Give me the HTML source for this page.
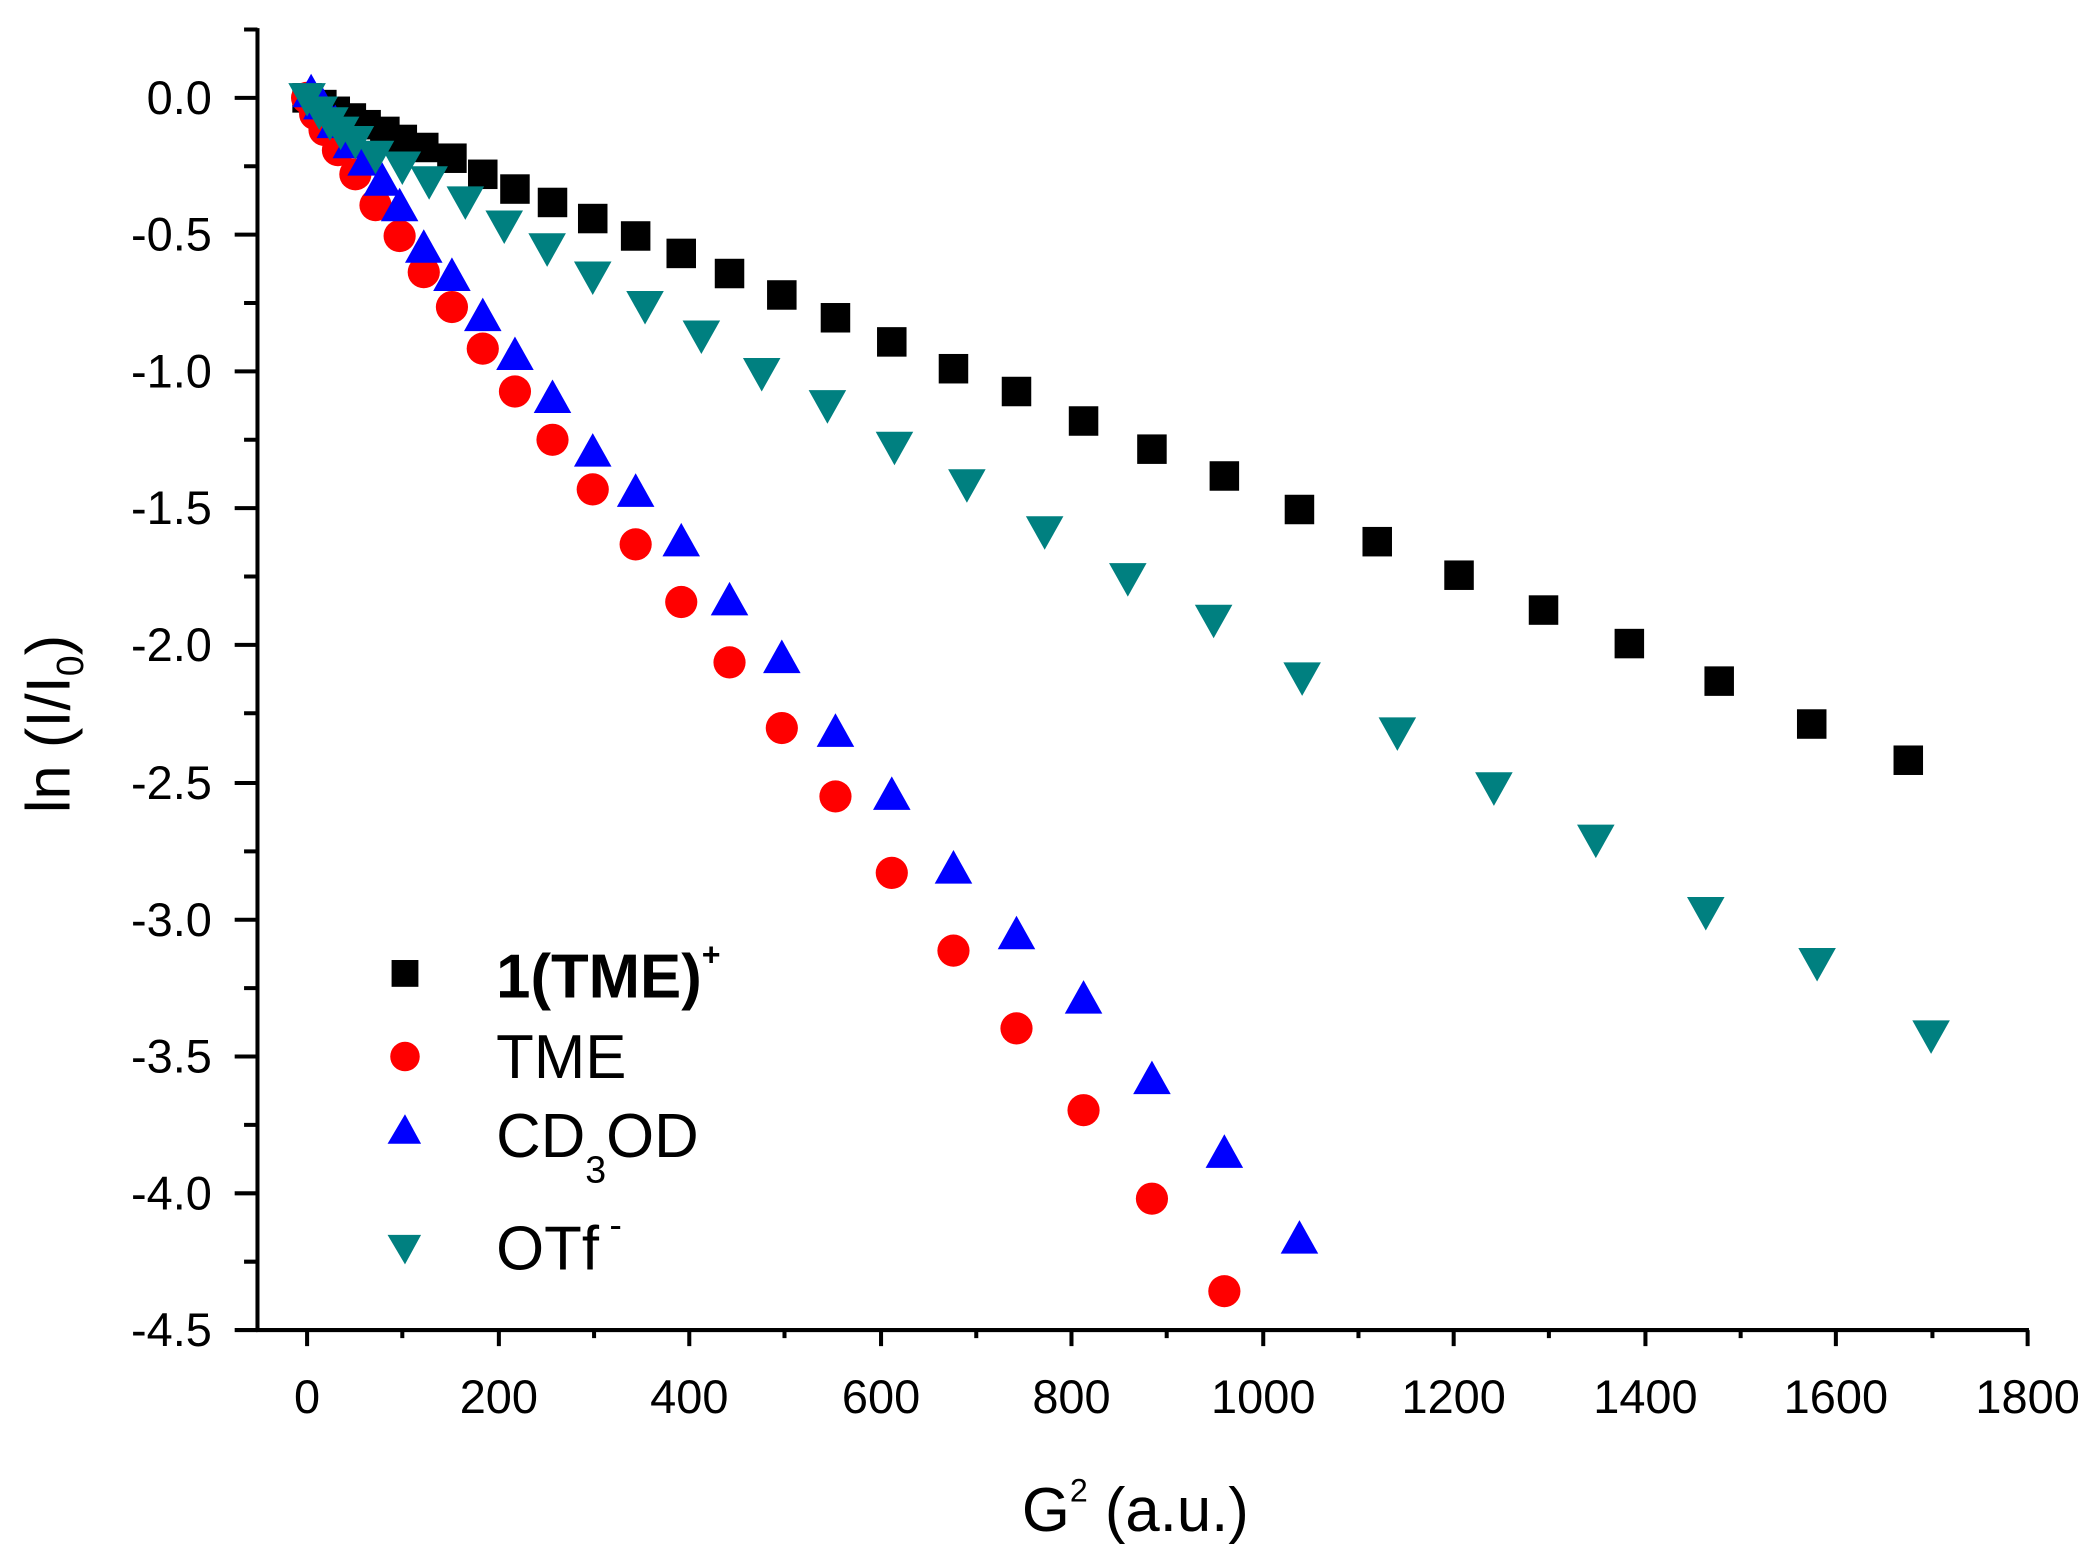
<!DOCTYPE html>
<html><head><meta charset="utf-8"><style>
html,body{margin:0;padding:0;background:#fff;}
svg{display:block;}
text{font-family:"Liberation Sans",Arial,sans-serif;fill:#000;}
</style></head><body>
<svg width="2092" height="1558" viewBox="0 0 1560 1162" preserveAspectRatio="none" xmlns="http://www.w3.org/2000/svg">
<defs>
<rect id="sq" x="-11" y="-11" width="22" height="22" fill="#000"/>
<circle id="ci" r="12" fill="#ff0000"/>
<path id="tu" d="M0,-14 L14,11 L-14,11 Z" fill="#0000ff"/>
<path id="td" d="M0,14 L14,-11 L-14,-11 Z" fill="#008080"/>
</defs>
<g stroke="#000" stroke-width="3" fill="none">
<line x1="192" y1="21" x2="192" y2="993"/>
<line x1="191" y1="992" x2="1513" y2="992"/>
<path d="M175,73H192 M175,175H192 M175,277H192 M175,379H192 M175,481H192 M175,584H192 M175,686H192 M175,788H192 M175,890H192 M175,992H192"/>
<path d="M182,22H192 M182,124H192 M182,226H192 M182,328H192 M182,430H192 M182,532H192 M182,635H192 M182,737H192 M182,839H192 M182,941H192"/>
<path d="M229,992V1004 M372,992V1004 M514,992V1004 M657,992V1004 M799,992V1004 M942,992V1004 M1084,992V1004 M1227,992V1004 M1369,992V1004 M1512,992V1004"/>
<path d="M300,992V998 M443,992V998 M585,992V998 M728,992V998 M870,992V998 M1013,992V998 M1155,992V998 M1298,992V998 M1441,992V998"/>
</g>
<g font-size="35" text-anchor="end">
<text x="158" y="85">0.0</text>
<text x="158" y="187">-0.5</text>
<text x="158" y="289">-1.0</text>
<text x="158" y="391">-1.5</text>
<text x="158" y="493">-2.0</text>
<text x="158" y="596">-2.5</text>
<text x="158" y="698">-3.0</text>
<text x="158" y="800">-3.5</text>
<text x="158" y="902">-4.0</text>
<text x="158" y="1004">-4.5</text>
</g>
<g font-size="35" text-anchor="middle">
<text x="229" y="1054">0</text>
<text x="372" y="1054">200</text>
<text x="514" y="1054">400</text>
<text x="657" y="1054">600</text>
<text x="799" y="1054">800</text>
<text x="942" y="1054">1000</text>
<text x="1084" y="1054">1200</text>
<text x="1227" y="1054">1400</text>
<text x="1369" y="1054">1600</text>
<text x="1512" y="1054">1800</text>
</g>
<text x="762" y="1142" font-size="46">G<tspan font-size="24" dy="-22">2</tspan><tspan dy="22"> (a.u.)</tspan></text>
<text transform="translate(52,540) rotate(-90)" font-size="46" text-anchor="middle">ln (I/I<tspan font-size="28" dy="10">0</tspan><tspan dy="-10">)</tspan></text>

<g>
<use href="#sq" x="229" y="73"/><use href="#sq" x="240" y="78"/><use href="#sq" x="250" y="83"/><use href="#sq" x="262" y="88"/><use href="#sq" x="273" y="93"/><use href="#sq" x="287" y="98"/><use href="#sq" x="300" y="104"/><use href="#sq" x="316" y="110"/><use href="#sq" x="337" y="118"/><use href="#sq" x="360" y="130"/><use href="#sq" x="384" y="141"/><use href="#sq" x="412" y="151"/><use href="#sq" x="442" y="163"/><use href="#sq" x="474" y="176"/><use href="#sq" x="508" y="189"/><use href="#sq" x="544" y="204"/><use href="#sq" x="583" y="220"/><use href="#sq" x="623" y="237"/><use href="#sq" x="665" y="255"/><use href="#sq" x="711" y="275"/><use href="#sq" x="758" y="292"/><use href="#sq" x="808" y="314"/><use href="#sq" x="859" y="335"/><use href="#sq" x="913" y="355"/><use href="#sq" x="969" y="380"/><use href="#sq" x="1027" y="404"/><use href="#sq" x="1088" y="429"/><use href="#sq" x="1151" y="455"/><use href="#sq" x="1215" y="480"/><use href="#sq" x="1282" y="508"/><use href="#sq" x="1351" y="540"/><use href="#sq" x="1423" y="567"/>
</g>
<g>
<use href="#ci" x="229" y="73"/><use href="#ci" x="235" y="85"/><use href="#ci" x="242" y="97"/><use href="#ci" x="252" y="112"/><use href="#ci" x="265" y="130"/><use href="#ci" x="280" y="153"/><use href="#ci" x="298" y="176"/><use href="#ci" x="316" y="203"/><use href="#ci" x="337" y="229"/><use href="#ci" x="360" y="260"/><use href="#ci" x="384" y="292"/><use href="#ci" x="412" y="328"/><use href="#ci" x="442" y="365"/><use href="#ci" x="474" y="406"/><use href="#ci" x="508" y="449"/><use href="#ci" x="544" y="494"/><use href="#ci" x="583" y="543"/><use href="#ci" x="623" y="594"/><use href="#ci" x="665" y="651"/><use href="#ci" x="711" y="709"/><use href="#ci" x="758" y="767"/><use href="#ci" x="808" y="828"/><use href="#ci" x="859" y="894"/><use href="#ci" x="913" y="963"/>
</g>
<g>
<use href="#tu" x="232" y="69"/><use href="#tu" x="240" y="78"/><use href="#tu" x="250" y="92"/><use href="#tu" x="262" y="107"/><use href="#tu" x="273" y="120"/><use href="#tu" x="285" y="135"/><use href="#tu" x="298" y="154"/><use href="#tu" x="316" y="185"/><use href="#tu" x="337" y="206"/><use href="#tu" x="360" y="236"/><use href="#tu" x="384" y="265"/><use href="#tu" x="412" y="297"/><use href="#tu" x="442" y="337"/><use href="#tu" x="474" y="367"/><use href="#tu" x="508" y="404"/><use href="#tu" x="544" y="448"/><use href="#tu" x="583" y="491"/><use href="#tu" x="623" y="546"/><use href="#tu" x="665" y="593"/><use href="#tu" x="711" y="648"/><use href="#tu" x="758" y="697"/><use href="#tu" x="808" y="745"/><use href="#tu" x="859" y="805"/><use href="#tu" x="913" y="860"/><use href="#tu" x="969" y="924"/>
</g>
<g>
<use href="#td" x="229" y="73"/><use href="#td" x="238" y="83"/><use href="#td" x="246" y="91"/><use href="#td" x="254" y="98"/><use href="#td" x="265" y="105"/><use href="#td" x="280" y="116"/><use href="#td" x="300" y="124"/><use href="#td" x="320" y="135"/><use href="#td" x="347" y="150"/><use href="#td" x="376" y="168"/><use href="#td" x="408" y="185"/><use href="#td" x="442" y="206"/><use href="#td" x="481" y="228"/><use href="#td" x="523" y="250"/><use href="#td" x="568" y="278"/><use href="#td" x="617" y="302"/><use href="#td" x="667" y="333"/><use href="#td" x="721" y="361"/><use href="#td" x="779" y="396"/><use href="#td" x="841" y="431"/><use href="#td" x="905" y="462"/><use href="#td" x="971" y="505"/><use href="#td" x="1042" y="546"/><use href="#td" x="1114" y="587"/><use href="#td" x="1190" y="626"/><use href="#td" x="1272" y="680"/><use href="#td" x="1355" y="718"/><use href="#td" x="1440" y="772"/>
</g>

<rect x="292" y="716" width="20" height="20" fill="#000"/>
<circle cx="302" cy="788" r="11" fill="#ff0000"/>
<path d="M302,831 L314,853 L289,853 Z" fill="#0000ff"/>
<path d="M289,921 L314,921 L302,943 Z" fill="#008080"/>
<g font-size="46">
<text x="370" y="744" font-weight="bold">1(TME)<tspan font-size="24" dy="-24">+</tspan></text>
<text x="370" y="804">TME</text>
<text x="370" y="863">CD<tspan font-size="28" dy="19">3</tspan><tspan dy="-19">OD</tspan></text>
<text x="370" y="947">OTf<tspan font-size="28" dy="-24"> -</tspan></text>
</g>
</svg>
</body></html>
